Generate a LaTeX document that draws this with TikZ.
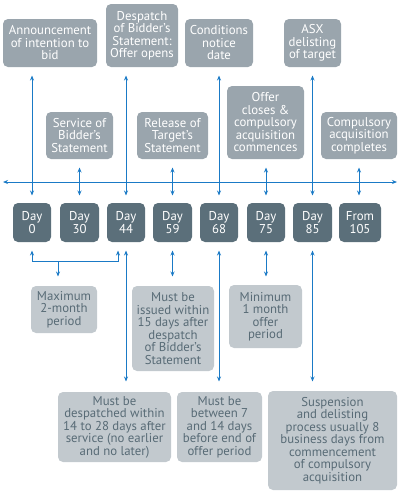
\documentclass[tikz,border=0pt]{standalone}
\usepackage{fontspec}
\setmainfont{PT Sans}
\usepackage{tikz}
\usetikzlibrary{arrows.meta}

\definecolor{daygrey}{HTML}{5B6F7A}
\definecolor{eventgrey}{HTML}{9AA5AD}
\definecolor{notegrey}{HTML}{C2C9CE}
\definecolor{notetext}{HTML}{586B76}
\definecolor{lineblue}{HTML}{1A7AC6}

\tikzset{
  box/.style={rounded corners=5pt, inner sep=0pt, align=center, font=\fontsize{12.8}{12.5}\selectfont},
  event/.style={box, fill=eventgrey, text=white},
  daybox/.style={box, fill=daygrey, text=white, minimum height=39pt},
  note/.style={box, fill=notegrey, text=notetext},
  link/.style={lineblue, line width=1pt, {Stealth[length=5pt,width=4pt]}-{Stealth[length=5pt,width=4pt]}},
}

\begin{document}
\begin{tikzpicture}[x=1pt, y=-1pt, line width=1pt]
    \useasboundingbox (0,0) rectangle (400,496);

    % events above the line
    \node[event, minimum width=94pt, minimum height=48pt] (t0) at (50,43) {Announcement\\of intention to\\bid};
    \node[event, minimum width=72pt, minimum height=63pt] (t44) at (142,35.5) {Despatch\\of Bidder's\\Statement:\\Offer opens};
    \node[event, minimum width=68pt, minimum height=48pt] (t68) at (219,43) {Conditions\\notice\\date};
    \node[event, minimum width=57pt, minimum height=48pt] (t85) at (312.5,43) {ASX\\delisting\\of target};

    \node[event, minimum width=67pt, minimum height=47pt] (t30) at (79.5,135.5) {Service of\\Bidder's\\Statement};
    \node[event, minimum width=71pt, minimum height=47pt] (t59) at (172.5,135.5) {Release of\\Target's\\Statement};
    \node[event, minimum width=77pt, minimum height=73pt] (t75) at (265.5,122.5) {Offer\\closes \&\\compulsory\\acquisition\\commences};
    \node[event, minimum width=76pt, minimum height=47pt] (t105) at (359,135.5) {Compulsory\\acquisition\\completes};

    % timeline
    \coordinate (tl) at (3,182);
    \coordinate (tr) at (397,182);
    \draw[link] (tl) -- (tr);

    \node[daybox, minimum width=38pt] (d0) at (32,222.5) {Day\\0};
    \node[daybox, minimum width=39pt] (d30) at (79.5,222.5) {Day\\30};
    \node[daybox, minimum width=38pt] (d44) at (126,222.5) {Day\\44};
    \node[daybox, minimum width=39pt] (d59) at (172.5,222.5) {Day\\59};
    \node[daybox, minimum width=38pt] (d68) at (219,222.5) {Day\\68};
    \node[daybox, minimum width=38pt] (d75) at (266,222.5) {Day\\75};
    \node[daybox, minimum width=39pt] (d85) at (312.5,222.5) {Day\\85};
    \node[daybox, minimum width=42pt] (d105) at (360,222.5) {From\\105};

    % notes below the line
    \node[note, minimum width=66pt, minimum height=47pt] (b0) at (64,309.5) {Maximum\\2-month\\period};
    \node[note, minimum width=82pt, minimum height=85pt] (b59) at (173,328.5) {Must be\\issued within\\15 days after\\despatch\\of Bidder's\\Statement};
    \node[note, minimum width=73pt, minimum height=63pt] (b75) at (265.5,316.5) {Minimum\\1 month\\offer\\period};
    \node[note, minimum width=113pt, minimum height=70pt] (b44) at (114.5,427) {Must be\\despatched within\\14 to 28 days after\\service (no earlier\\and no later)};
    \node[note, minimum width=85pt, minimum height=70pt] (b68) at (219.5,427) {Must be\\between 7\\and 14 days\\before end of\\offer period};
    \node[note, minimum width=129pt, minimum height=99pt] (b85) at (332.5,440.5) {Suspension\\and delisting\\process usually 8\\business days from\\commencement\\of compulsory\\acquisition};

    % day to event
    \draw[link, shorten <=8pt, shorten >=7pt] (t0.south -| d0.north) -- (d0.north);
    \draw[link, shorten <=8pt, shorten >=7pt] (t30.south) -- (t30.south |- d30.north);
    \draw[link, shorten <=8pt, shorten >=7pt] (t44.south -| d44.north) -- (d44.north);
    \draw[link, shorten <=8pt, shorten >=7pt] (t59.south) -- (t59.south |- d59.north);
    \draw[link, shorten <=8pt, shorten >=7pt] (t68.south -| d68.north) -- (d68.north);
    \draw[link, shorten <=8pt, shorten >=7pt] (t75.south -| d75.north) -- (d75.north);
    \draw[link, shorten <=8pt, shorten >=7pt] (t85.south -| d85.north) -- (d85.north);
    \draw[link, shorten <=8pt, shorten >=7pt] (t105.south) -- (t105.south |- d105.north);

    % day to note
    \coordinate (bl) at (32,261);
    \coordinate (br) at (118,261);
    \coordinate (bm) at (58,261);
    \draw[link, shorten <=8pt, shorten >=8pt] (d0.south) -- (bl) -- (br) -- (br |- d44.south);
    \draw[link, -{Stealth[length=5pt,width=4pt]}, shorten >=9pt] (bm) -- (bm |- b0.north);
    \draw[link, shorten <=8pt, shorten >=10pt] (d44.south) -- (d44.south |- b44.north);
    \draw[link, shorten <=8pt, shorten >=9pt] (d59.south) -- (d59.south |- b59.north);
    \draw[link, shorten <=8pt, shorten >=10pt] (d68.south) -- (d68.south |- b68.north);
    \draw[link, shorten <=8pt, shorten >=8pt] (d75.south) -- (d75.south |- b75.north);
    \draw[link, shorten <=8pt, shorten >=9pt] (d85.south) -- (d85.south |- b85.north);
\end{tikzpicture}
\end{document}
